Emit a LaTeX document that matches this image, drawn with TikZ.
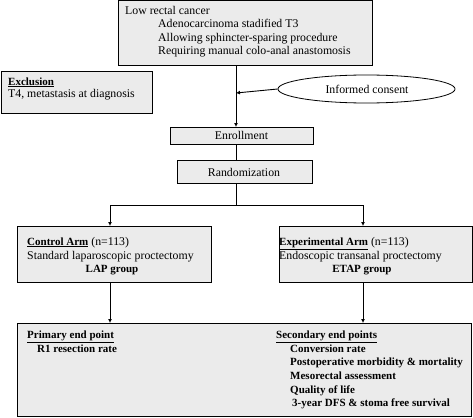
\documentclass[tikz,border=0pt]{standalone}
\usepackage{fontspec}
\setmainfont{Liberation Serif}
\usetikzlibrary{arrows.meta,shapes.geometric}
\newcommand{\bsz}{\fontsize{11}{12}\selectfont\bfseries}
\begin{document}
\begin{tikzpicture}[x=1pt,y=-1pt,
  box/.style={draw=black, line width=0.8pt, fill=boxgray, inner sep=0pt, anchor=north west},
  txt/.style={anchor=base west, inner sep=0pt, font=\fontsize{11.8}{12}\selectfont},
  ctxt/.style={anchor=base, inner sep=0pt, font=\fontsize{11.8}{12}\selectfont},
  arr/.style={-{Latex[length=4pt,width=4pt]}, line width=0.9pt},
  ln/.style={line width=0.9pt}]
\definecolor{boxgray}{RGB}{235,235,235}
\useasboundingbox (0,0) rectangle (473,417);
% boxes
\node[box, minimum width=254pt, minimum height=65pt] (top) at (118,0.5) {};
\node[box, minimum width=151pt, minimum height=42pt] (excl) at (1,71) {};
\node[draw=black, line width=0.8pt, fill=white, ellipse, minimum width=177pt, minimum height=28pt, inner sep=0pt] (cons) at (366.5,89) {};
\node[box, minimum width=143pt, minimum height=17pt] (enr) at (170,127) {};
\node[box, minimum width=135pt, minimum height=23pt] (rand) at (177,160) {};
\node[box, minimum width=194pt, minimum height=56pt] (ctrl) at (17,226) {};
\node[box, minimum width=193pt, minimum height=56pt] (exp) at (279,226) {};
\node[box, minimum width=454pt, minimum height=93pt] (end) at (17,323) {};
% texts
\node[txt] (t1) at (125,15) {Low rectal cancer};
\node[txt] (t2) at (158,28) {Adenocarcinoma stadified T3};
\node[txt] (t3) at (158,42) {Allowing sphincter-sparing procedure};
\node[txt] (t4) at (158,55) {Requiring manual colo-anal anastomosis};
\node[txt] (e1) at (8,85) {{\bsz\underline{Exclusion}}};
\node[txt] (e2) at (8,98) {T4, metastasis at diagnosis};
\node[ctxt] (ic) at (367,93) {Informed consent};
\node[ctxt] (en) at (241.5,139) {Enrollment};
\node[ctxt] (rn) at (244,176) {Randomization};
\node[txt] (c1) at (27,245) {{\bsz\underline{Control Arm}} (n=113)};
\node[txt] (c2) at (27,259) {Standard laparoscopic proctectomy};
\node[ctxt] (c3) at (112,272) {\bsz LAP group};
\node[txt] (x1) at (279,245) {{\bsz\underline{Experimental Arm}} (n=113)};
\node[txt] (x2) at (279,259) {Endoscopic transanal proctectomy};
\node[ctxt] (x3) at (362,272) {\bsz ETAP group};
\node[txt] (p1) at (27,338) {\bsz\underline{Primary end point}};
\node[txt] (p2) at (37,352) {\bsz R1 resection rate};
\node[txt] (s1) at (276,338) {\bsz\underline{Secondary end points}};
\node[txt] (s2) at (290,352) {\bsz Conversion rate};
\node[txt] (s3) at (290,365) {\bsz Postoperative morbidity \& mortality};
\node[txt] (s4) at (290,379) {\bsz Mesorectal assessment};
\node[txt] (s5) at (290,393) {\bsz Quality of life};
\node[txt] (s6) at (292,406) {\bsz 3-year DFS \& stoma free survival};
% connectors
\coordinate (j1) at (236,93);
\coordinate (br) at (236,205);
\draw[arr] (top.south -| j1) -- (enr.north -| j1);
\draw[arr] (cons.west) -- (j1);
\draw[ln] (enr.south -| br) -- (rand.north -| br);
\draw[ln] (rand.south -| br) -- (br);
\draw[arr] (br) -| (110,226) coordinate (ca);
\draw[arr] (br) -| (363,226) coordinate (xa);
\draw[arr] (ctrl.south -| ca) -- (end.north -| ca);
\draw[arr] (exp.south -| xa) -- (end.north -| xa);
\end{tikzpicture}
\end{document}
